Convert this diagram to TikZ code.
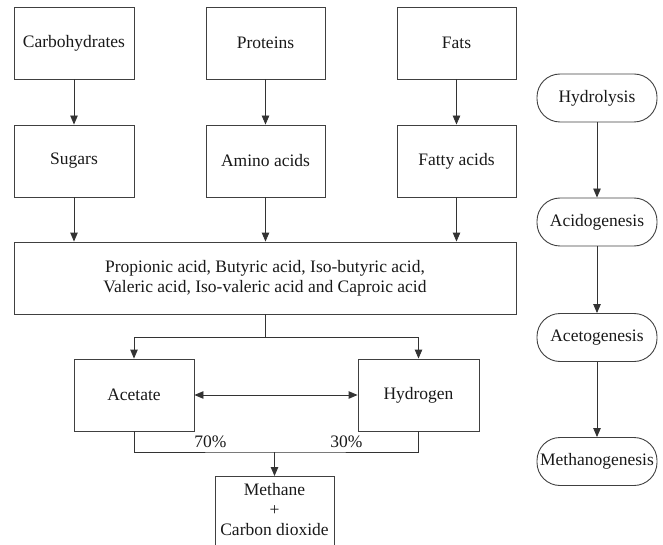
\documentclass[tikz,border=0pt]{standalone}
\usepackage{fontspec}
\setmainfont{Liberation Serif}
\usetikzlibrary{arrows.meta}
\begin{document}
\begin{tikzpicture}[x=1pt,y=-1pt,
  every node/.style={font=\fontsize{17.5}{20}\selectfont, text=black!90},
  box/.style={draw=black!75, line width=0.9pt, minimum height=72pt, inner sep=0pt, align=center},
  pill/.style={draw=black!75, line width=0.9pt, rounded corners=23pt, minimum width=120pt, minimum height=48pt, inner sep=0pt},
  conn/.style={draw=black!80, line width=0.9pt},
  arr/.style={conn, -{Triangle[length=9pt,width=7.5pt]}},
  arrtwo/.style={conn, {Triangle[length=9pt,width=7.5pt]}-{Triangle[length=9pt,width=7.5pt]}},
  lab/.style={inner sep=0pt}]
\useasboundingbox (0,0) rectangle (663,545);
\clip (0,0) rectangle (663,545);
% top row
\node[box, minimum width=120pt] (carb) at (74,43) {Carbohydrates};
\node[box, minimum width=119pt] (prot) at (265.5,43) {Proteins};
\node[box, minimum width=119pt] (fats) at (456.5,43) {Fats};
% second row
\node[box, minimum width=120pt] (sugars) at (74,161) {Sugars};
\node[box, minimum width=119pt] (amino) at (265.5,161) {Amino acids};
\node[box, minimum width=119pt] (fatty) at (456.5,161) {Fatty acids};
% big box
\node[box, minimum width=502pt] (big) at (265,278) {Propionic acid, Butyric acid, Iso-butyric acid,\\Valeric acid, Iso-valeric acid and Caproic acid};
% acetate / hydrogen
\node[box, minimum width=120pt] (acetate) at (134,395) {Acetate};
\node[box, minimum width=121pt] (hydrogen) at (418.5,395) {Hydrogen};
% methane box (cut by the bottom edge)
\node[box, minimum width=119pt, minimum height=100pt, anchor=north] (methane) at (274.5,476) {};
\node[lab, align=center, anchor=north] (methanetext) at (274.5,483) {Methane\\+\\Carbon dioxide};
% percentages
\node[lab] (p70) at (210.5,442) {70\%};
\node[lab] (p30) at (346.5,442) {30\%};
% stages
\node[pill] (hyd) at (597,98) {Hydrolysis};
\node[pill] (acido) at (597,222) {Acidogenesis};
\node[pill] (aceto) at (597,337.5) {Acetogenesis};
\node[pill] (metha) at (597,461.5) {Methanogenesis};
% connectors
\draw[arr] (carb) -- (sugars);
\draw[arr] (prot) -- (amino);
\draw[arr] (fats) -- (fatty);
\draw[arr] (sugars) -- (sugars |- big.north);
\draw[arr] (amino) -- (amino |- big.north);
\draw[arr] (fatty) -- (fatty |- big.north);
\coordinate (j1) at (265,337);
\draw[conn] (big.south) -- (j1);
\draw[arr] (j1) -| (acetate.north);
\draw[arr] (j1) -| (hydrogen.north);
\draw[arrtwo] (acetate.east) -- (hydrogen.west);
\coordinate (j2) at (274.5,452);
\draw[conn] (acetate.south) |- (j2) -| (hydrogen.south);
\draw[arr] (j2) -- (methane.north);
\draw[arr] (hyd) -- (acido);
\draw[arr] (acido) -- (aceto);
\draw[arr] (aceto) -- (metha);
\end{tikzpicture}
\end{document}
